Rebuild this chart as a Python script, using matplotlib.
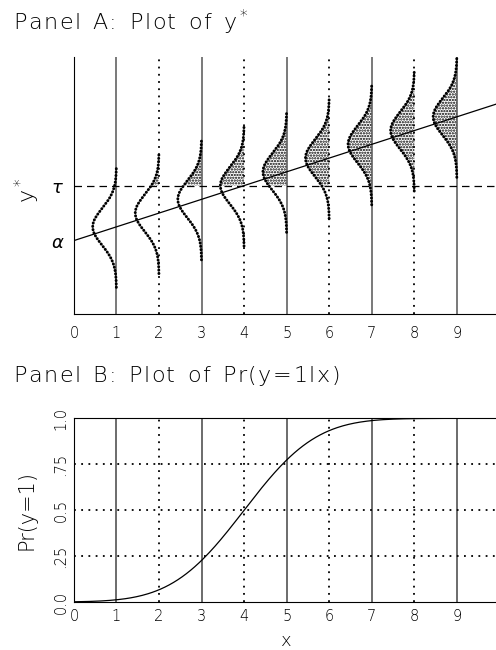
import math
import numpy as np
import matplotlib.pyplot as plt

# model: y* = alpha + beta*x + e, e ~ N(0, sigma), y = 1 when y* > tau
alpha = 4.0
beta = 0.75
tau = 7.0
sigma = 1.0
x_points = [1, 2, 3, 4, 5, 6, 7, 8, 9]
x_ticks = [0, 1, 2, 3, 4, 5, 6, 7, 8, 9]
prob_ticks = [0.0, 0.25, 0.5, 0.75, 1.0]
prob_labels = ['0.0', '.25', '0.5', '.75', '1.0']

plt.rcParams['font.family'] = ['DejaVu Sans']
plt.rcParams['hatch.linewidth'] = 1.1

fig = plt.figure(figsize=(4.96, 6.5), dpi=100)
renderer = fig.canvas.get_renderer()


def spaced_title(x0, y, pieces, size, track=1.6, space=10.5):
    # write a title piece by piece with extra letter spacing (pixels)
    x = x0 * fig.bbox.width
    for p in pieces:
        if p == ' ':
            x += space
            continue
        t = fig.text(x / fig.bbox.width, y, p, fontsize=size, va='center',
                     ha='left', fontweight='light')
        x += t.get_window_extent(renderer).width + track


def chars(s):
    return list(s)


ystar = r'$\mathregular{y^*}$'

# ---- Panel A: latent variable ----
ax1 = fig.add_axes([0.149, 0.517, 0.858, 0.395])
ax1.set_xlim(0, 10)
ax1.set_ylim(0, 14)

for x in x_points:
    if x % 2 == 1:
        ax1.axvline(x, color='#555555', lw=1.1)
    else:
        ax1.axvline(x, color='black', lw=1.3, ls=(0, (1, 3)))

ax1.axhline(tau, color='black', lw=0.9, ls=(0, (6, 4)))

xx = np.linspace(0, 10, 50)
ax1.plot(xx, alpha + beta * xx, color='black', lw=0.9)

scale = 1.4
for x in x_points:
    mu = alpha + beta * x
    ys = np.linspace(mu - 3.3 * sigma, min(mu + 3.3 * sigma, 14), 300)
    pdf = np.exp(-0.5 * ((ys - mu) / sigma) ** 2) / (sigma * math.sqrt(2 * math.pi))
    xs = x - scale * pdf
    above = ys >= tau
    if above.any():
        ax1.fill_betweenx(ys[above], xs[above], x, facecolor='none',
                          edgecolor='black', hatch='......', lw=0)
    ax1.plot(xs, ys, color='black', lw=2.1, ls=(0, (0.1, 1.05)),
             dash_capstyle='round')

ax1.spines['top'].set_visible(False)
ax1.spines['right'].set_visible(False)
ax1.set_xticks(x_ticks)
ax1.set_xticklabels([str(t) for t in x_ticks], fontsize=10.5, fontweight='light')
ax1.tick_params(axis='x', length=0, pad=9)
ax1.set_yticks([alpha, tau])
ax1.set_yticklabels([r'$\alpha$', r'$\tau$'], fontsize=13)
ax1.tick_params(axis='y', length=0, pad=7)
ax1.set_ylabel(ystar, fontsize=16, fontweight='light')
ax1.yaxis.set_label_coords(-0.075, 0.48)
spaced_title(0.026, 0.965, chars('Panel') + [' '] + chars('A:') + [' ']
             + chars('Plot') + [' '] + chars('of') + [' '] + [ystar], 16)

# ---- Panel B: probability curve ----
ax2 = fig.add_axes([0.149, 0.0738, 0.858, 0.2826])
ax2.set_xlim(0, 10)
ax2.set_ylim(0, 1)

for x in x_points:
    if x % 2 == 1:
        ax2.axvline(x, color='#444444', lw=1.1)
    else:
        ax2.axvline(x, color='black', lw=1.3, ls=(0, (1, 3)))
for p in prob_ticks[1:4]:
    ax2.axhline(p, color='black', lw=1.3, ls=(0, (1, 3)))

xg = np.linspace(0, 10, 300)
pr = np.array([0.5 * (1 + math.erf((alpha + beta * v - tau) / (sigma * math.sqrt(2))))
               for v in xg])
ax2.plot(xg, pr, color='black', lw=0.9)

ax2.spines['right'].set_visible(False)
ax2.set_xticks(x_ticks)
ax2.set_xticklabels([str(t) for t in x_ticks], fontsize=10.5, fontweight='light')
ax2.tick_params(axis='x', length=0, pad=5)
ax2.set_yticks(prob_ticks)
ax2.set_yticklabels(prob_labels, fontsize=10.5, fontweight='light',
                    rotation=90, va='center')
ax2.tick_params(axis='y', length=0, pad=4)
ax2.set_ylabel('Pr(y=1)', fontsize=15, fontweight='light')
ax2.yaxis.set_label_coords(-0.087, 0.5)
ax2.set_xlabel('x', fontsize=13, fontweight='light', labelpad=6)
spaced_title(0.026, 0.4215, chars('Panel') + [' '] + chars('B:') + [' ']
             + chars('Plot') + [' '] + chars('of') + [' ']
             + chars('Pr(y=1lx)'), 16)

fig.savefig('out.png', dpi=100)
